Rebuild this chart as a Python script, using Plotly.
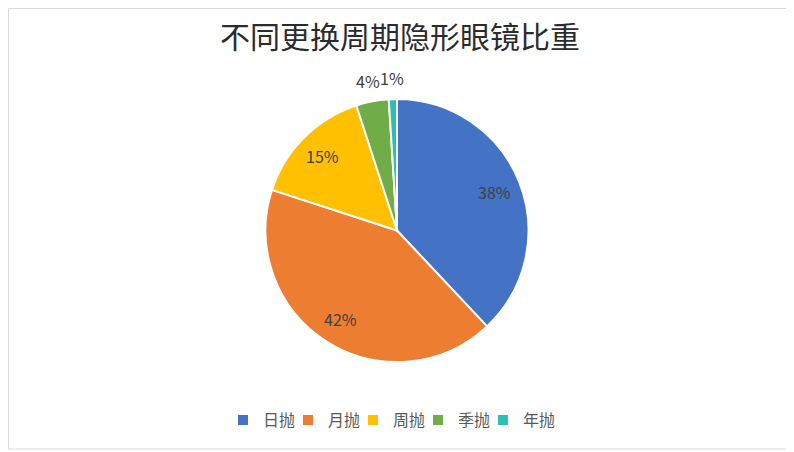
import math
import plotly.graph_objects as go

labels = ['日抛', '月抛', '周抛', '季抛', '年抛']
shares = [38, 42, 15, 4, 1]
colors = ['#4472C4', '#ED7D31', '#FFC000', '#70AD47', '#2EBFB4']
positions = ['inside', 'inside', 'inside', 'outside', 'outside']

W, H = 794, 452
OFF = 8  # page body margin shifts the figure by 8px
mt, ph = 99 - OFF, 263
mb = H - mt - ph
ml, mr = 0, 2 * OFF
pw = W - ml - mr

fig = go.Figure(go.Pie(
    labels=labels,
    values=shares,
    sort=False,
    direction='clockwise',
    rotation=0,
    marker=dict(colors=colors, line=dict(color='white', width=2)),
    textinfo='none',
    hole=0,
))
# empty legend entry so the last (narrow) entry is not clipped
fig.add_trace(go.Scatter(x=[None], y=[None], name=' ', mode='markers',
                         marker=dict(color='rgba(0,0,0,0)'), hoverinfo='skip'))

# data labels along each slice's middle angle, like Excel's
total = sum(shares)
R = ph / 2
cx, cy = ml + pw / 2, mt + R
annotations = []
cum = 0
for v, pos in zip(shares, positions):
    ang = 2 * math.pi * (cum + v / 2) / total
    cum += v
    r = R * (0.8 if pos == 'inside' else 1.16)
    px_ = cx + r * math.sin(ang)
    py_ = cy - r * math.cos(ang)
    annotations.append(dict(
        text=f'{round(100 * v / total)}%', showarrow=False,
        xref='paper', yref='paper',
        x=(px_ - ml) / pw, y=(H - mb - py_) / ph,
        xanchor='center', yanchor='middle',
        font=dict(size=16, color='#404040')))

fig.update_layout(
    width=W, height=H,
    paper_bgcolor='white',
    plot_bgcolor='white',
    xaxis=dict(visible=False),
    yaxis=dict(visible=False),
    font=dict(family='Noto Sans CJK SC, sans-serif', color='#595959'),
    margin=dict(l=ml, r=mr, t=mt, b=mb, autoexpand=False),
    title=dict(text='不同更换周期隐形眼镜比重', x=(400 - OFF) / W, xanchor='center',
               y=1 - (37 - OFF) / H, yanchor='middle',
               font=dict(size=30, color='#2b2b2b', family='Noto Sans CJK SC')),
    legend=dict(orientation='h', x=(215 - ml) / pw, xanchor='left',
                y=-(420 - OFF - (H - mb)) / ph, yanchor='middle',
                font=dict(size=16, color='#595959'), itemwidth=30,
                entrywidth=20, traceorder='normal'),
    annotations=annotations,
    shapes=[dict(type='rect', xref='paper', yref='paper',
                 x0=(0.5 - ml) / pw, x1=(791 - OFF - ml) / pw,
                 y0=-(449 - OFF - (H - mb)) / ph, y1=1 + (mt - 0.5) / ph,
                 line=dict(color='#D9D9D9', width=1), fillcolor='rgba(0,0,0,0)')],
)

fig.write_html("out.html")
